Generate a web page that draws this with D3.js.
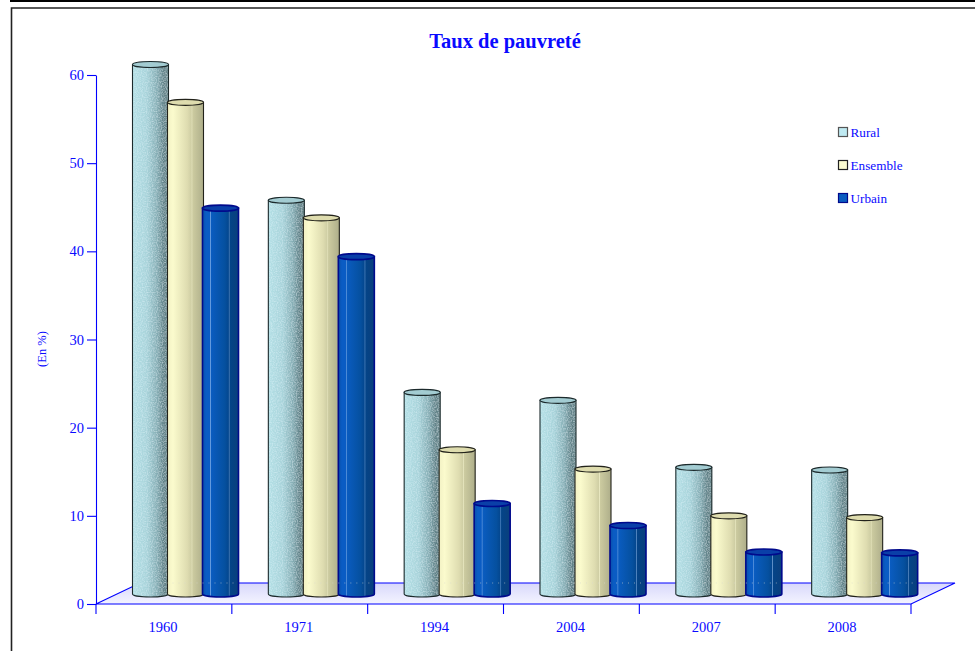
<!DOCTYPE html>
<html>
<head>
<meta charset="utf-8">
<script src="https://cdn.jsdelivr.net/npm/d3@7"></script>
<style>
  html, body { margin: 0; padding: 0; background: #fff; }
  svg { display: block; }
  text { font-family: "Liberation Serif", serif; fill: #0a0aff; }
</style>
</head>
<body>
<div id="chart"></div>
<script>
// data
const years = ["1960", "1971", "1994", "2004", "2007", "2008"];
const seriesNames = ["Rural", "Ensemble", "Urbain"];
const rural = [60.2, 44.8, 23.0, 22.1, 14.5, 14.2];
const ensemble = [55.9, 42.8, 16.5, 14.3, 9.0, 8.8];
const urbain = [43.9, 38.4, 10.4, 7.9, 4.9, 4.8];
const yTicks = [0, 10, 20, 30, 40, 50, 60];

const seriesValues = [rural, ensemble, urbain];
const seriesGrad = ["gradRural", "gradEnsemble", "gradUrbain"];
const seriesTop = ["#a3ccd2", "#dedcae", "#0a3fa8"];
const seriesStroke = ["#1c2a2c", "#22221a", "#000a8c"];

const width = 975, height = 651;
const blue = "#0000ff";

const svg = d3.select("#chart").append("svg")
    .attr("width", width)
    .attr("height", height);

const defs = svg.append("defs");

function addGradient(id, stops) {
    let g = defs.append("linearGradient").attr("id", id)
        .attr("x1", "0%").attr("x2", "100%").attr("y1", "0%").attr("y2", "0%");
    stops.forEach(s => g.append("stop").attr("offset", s[0]).attr("stop-color", s[1]));
}
addGradient("gradRural", [[0, "#b4e0e6"], [0.4, "#a8d3da"], [0.68, "#86aeb5"], [0.88, "#5f8086"], [1, "#6d8a8e"]]);
addGradient("gradEnsemble", [[0, "#f2f1c4"], [0.15, "#fbfbcd"], [0.55, "#dedcb0"], [0.66, "#cfcea4"], [0.68, "#e8e7c0"], [0.7, "#cccba0"], [1, "#aeae8a"]]);
addGradient("gradUrbain", [[0, "#0a4fa8"], [0.1, "#0a5cc4"], [0.2, "#0a5cc4"], [0.22, "#6ea2e2"], [0.24, "#0a5cc0"], [0.62, "#05509f"], [0.72, "#04478f"], [0.74, "#5f90c8"], [0.76, "#044488"], [1, "#0a3f7c"]]);

// floor colour
let floorGrad = defs.append("linearGradient").attr("id", "gradFloor")
    .attr("x1", "0%").attr("x2", "0%").attr("y1", "0%").attr("y2", "100%");
floorGrad.append("stop").attr("offset", 0).attr("stop-color", "#d8d8fb");
floorGrad.append("stop").attr("offset", 1).attr("stop-color", "#f4f4ff");

// speckle on the rural bars
defs.append("filter").attr("id", "speckle")
    .attr("x", "0").attr("y", "0").attr("width", "100%").attr("height", "100%")
    .call(f => {
        f.append("feTurbulence").attr("type", "fractalNoise").attr("baseFrequency", 0.8)
            .attr("numOctaves", 1).attr("seed", 3).attr("result", "noise");
        f.append("feColorMatrix").attr("in", "noise").attr("type", "matrix")
            .attr("values", "0 0 0 0 0.8  0 0 0 0 0.95  0 0 0 0 1  1.0 0 0 0 -0.4").attr("result", "dots");
        f.append("feComposite").attr("in", "dots").attr("in2", "SourceGraphic").attr("operator", "atop").attr("result", "spots");
        f.append("feMerge").call(m => {
            m.append("feMergeNode").attr("in", "SourceGraphic");
            m.append("feMergeNode").attr("in", "spots");
        });
    });

// scales
const x = d3.scaleBand().domain(years).range([96, 911]);
const y = d3.scaleLinear().domain([0, 60]).range([604, 75]);

const depthX = 44, depthY = 21;    // floor depth
const barOffsetTop = 8.8, barOffsetBottom = 10;
const barInset = 36.5, barW = 36;
const ry = 3;

// frame
svg.append("rect").attr("x", 10).attr("y", 0).attr("width", 965).attr("height", 2).attr("fill", "#000");
svg.append("path").attr("d", "M975,8H11.5V651").attr("fill", "none").attr("stroke", "#222").attr("stroke-width", 1.6);

// title and y label
svg.append("text").attr("x", 505).attr("y", 48).attr("text-anchor", "middle")
    .attr("font-size", 20.5).attr("font-weight", "bold").text("Taux de pauvreté");
svg.append("text").attr("transform", "translate(46,349) rotate(-90)").attr("text-anchor", "middle")
    .attr("font-size", 12.5).text("(En %)");

// floor
svg.append("path")
    .attr("d", `M${x.range()[0]},${y(0)}L${x.range()[1]},${y(0)}L${x.range()[1] + depthX},${y(0) - depthY}L${x.range()[0] + depthX},${y(0) - depthY}Z`)
    .attr("fill", "url(#gradFloor)")
    .attr("stroke", blue).attr("stroke-width", 1.1);

// axes
const yAxis = svg.append("g").attr("transform", `translate(${x.range()[0]},0)`)
    .call(d3.axisLeft(y).tickValues(yTicks).tickSize(9).tickPadding(3).tickSizeOuter(0));
const xAxis = svg.append("g").attr("transform", `translate(-1,${y(0)})`)
    .call(d3.axisBottom(x).tickSize(0).tickPadding(16));
[yAxis, xAxis].forEach(a => {
    a.selectAll("text").attr("font-family", "Liberation Serif").attr("font-size", 14.5);
    a.selectAll("line").attr("stroke", blue).attr("stroke-width", 1.1);
    a.selectAll(".domain").attr("stroke", "none");
});
yAxis.selectAll(".domain").attr("stroke", blue).attr("stroke-width", 1.1);
xAxis.selectAll(".tick text").attr("dy", "0.85em");

// ticks sit between the categories
svg.selectAll(".xtick").data(years.concat(["end"])).join("line")
    .attr("class", "xtick")
    .attr("x1", (d, i) => x.range()[0] + i * x.step())
    .attr("x2", (d, i) => x.range()[0] + i * x.step())
    .attr("y1", y(0)).attr("y2", y(0) + 10)
    .attr("stroke", blue).attr("stroke-width", 1.1);

// cylinders
function cylinder(g, cx, top, bottom, s) {
    let left = cx - barW / 2, right = cx + barW / 2;
    let shape = `M${left},${top}L${left},${bottom}A${barW / 2},${ry} 0 0 0 ${right},${bottom}L${right},${top}Z`;
    let body = g.append("path")
        .attr("d", shape)
        .attr("fill", `url(#${seriesGrad[s]})`);
    if (s == 0) body.attr("filter", "url(#speckle)");
    g.append("path").attr("d", shape).attr("fill", "none")
        .attr("stroke", seriesStroke[s])
        .attr("stroke-width", s == 2 ? 1.6 : 1.1);
    g.append("ellipse")
        .attr("cx", cx).attr("cy", top)
        .attr("rx", barW / 2).attr("ry", ry)
        .attr("fill", seriesTop[s])
        .attr("stroke", seriesStroke[s])
        .attr("stroke-width", s == 2 ? 1.6 : 1.1);
}

years.forEach((yr, i) => {
    let g = svg.append("g").attr("class", "group");
    seriesValues.forEach((vals, s) => {
        let cx = x(yr) + barInset + barW / 2 + s * 35;
        cylinder(g, cx, y(vals[i]) - barOffsetTop, y(0) - barOffsetBottom, s);
    });
    // faint dotted back line of the floor seen through the bars
    g.append("line")
        .attr("x1", x(yr) + barInset + 28).attr("x2", x(yr) + barInset + 105)
        .attr("y1", y(0) - depthY).attr("y2", y(0) - depthY)
        .attr("stroke", "#d8d8d0").attr("stroke-width", 0.8)
        .attr("stroke-opacity", 0.7)
        .attr("stroke-dasharray", "1 5");
});

// legend
const legendY = d3.scalePoint().domain(seriesNames).range([132, 198]);
seriesNames.forEach((name, s) => {
    svg.append("rect")
        .attr("x", 838.5).attr("y", legendY(name) - 4.5)
        .attr("width", 9).attr("height", 9)
        .attr("fill", ["#bfeaf2", "#fdfdd0", "#0a5cc0"][s])
        .attr("stroke", ["#555", "#222", "#000a8c"][s]).attr("stroke-width", 1.2);
    svg.append("text")
        .attr("x", 850.5).attr("y", legendY(name) + 4.5)
        .attr("font-size", 13.2).text(name);
});
</script>
</body>
</html>
